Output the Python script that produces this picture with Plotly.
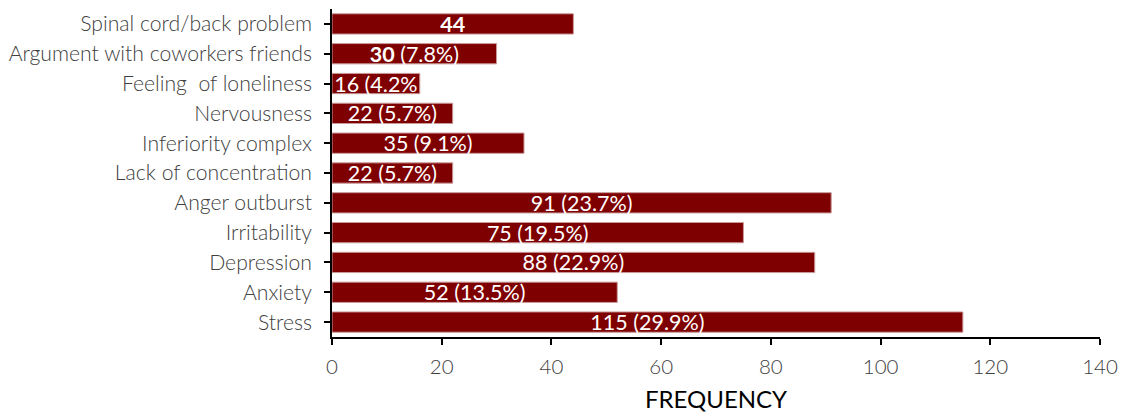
import plotly.graph_objects as go

# ── Data (top to bottom as drawn) ──
categories = [
    "Spinal cord/back problem", "Argument with coworkers friends",
    "Feeling  of loneliness", "Nervousness", "Inferiority complex",
    "Lack of concentration", "Anger outburst", "Irritability",
    "Depression", "Anxiety", "Stress",
]
frequency = [44, 30, 16, 22, 35, 22, 91, 75, 88, 52, 115]
labels = [
    "<b>44</b>", "<b>30</b> (7.8%)", "16 (4.2%", "22 (5.7%)", "35 (9.1%)",
    "22 (5.7%)", "91 (23.7%)", "75 (19.5%)", "88 (22.9%)", "52 (13.5%)",
    "115 (29.9%)",
]
x_ticks = [0, 20, 40, 60, 80, 100, 120, 140]

BAR_COLOR = "#7f0000"
TEXT_COLOR = "#404040"
FONT = "Lato, sans-serif"

fig = go.Figure(go.Bar(
    x=frequency, y=categories, orientation="h",
    marker=dict(color=BAR_COLOR, line=dict(color="#c99a9a", width=1)),
    text=labels, textposition="inside", insidetextanchor="middle",
    textangle=0, constraintext="none",
    textfont=dict(family=FONT, size=21.5, color="white"),
    width=0.68,
))

# the page body adds an 8px offset, so margins are shifted by that much
fig.update_layout(
    width=1126, height=412,
    plot_bgcolor="white", paper_bgcolor="white",
    margin=dict(l=324, r=34, t=1, b=83),
    font=dict(family=FONT, size=20, color=TEXT_COLOR),
    showlegend=False,
    xaxis=dict(
        range=[0, 140], tickvals=x_ticks, showgrid=False, zeroline=False,
        showline=True, linecolor="black", linewidth=1.5,
        ticks="outside", ticklen=6, tickcolor="black", tickwidth=1.5,
        tickfont=dict(size=20.5, color=TEXT_COLOR, weight=300),
        ticklabelstandoff=5,
        title=dict(text="FREQUENCY", standoff=14,
                   font=dict(size=24, color="black", family=FONT)),
    ),
    yaxis=dict(
        range=[10.5, -0.5], showgrid=False, zeroline=False,
        showline=True, linecolor="black", linewidth=1.5,
        ticks="outside", ticklen=6, tickcolor="black", tickwidth=1.5,
        tickfont=dict(size=21.2, color=TEXT_COLOR, weight=300),
        ticklabelstandoff=8,
    ),
)

fig.write_html("out.html")
